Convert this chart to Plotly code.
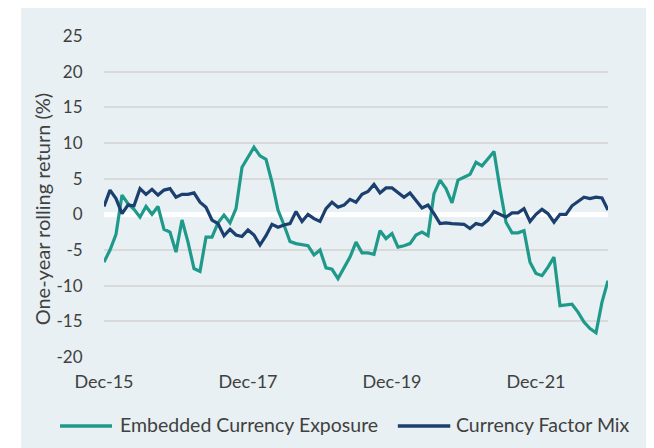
import plotly.graph_objects as go

months = list(range(85))  # monthly from Dec-15 to Dec-22
tick_vals = [0, 24, 48, 72]
tick_text = ["Dec-15", "Dec-17", "Dec-19", "Dec-21"]
y_tick_vals = [-20, -15, -10, -5, 0, 5, 10, 15, 20, 25]
y_tick_text = ["-20", "-15", "-10", "-5", "0", "5", "10", "15", "20", "25"]
series_names = ["Embedded Currency Exposure", "Currency Factor Mix"]

embedded = [
    -6.7, -5.0, -2.8, 2.7, 1.5, 0.7, -0.4, 1.1, 0.0, 1.1,
    -2.1, -2.5, -5.3, -0.8, -3.9, -7.6, -8.0, -3.2, -3.2, -1.2,
    -0.1, -1.2, 0.8, 6.6, 8.0, 9.4, 8.2, 7.7, 4.5, 0.6,
    -1.5, -3.8, -4.1, -4.3, -4.4, -5.7, -5.0, -7.5, -7.7, -9.0,
    -7.6, -6.0, -3.9, -5.4, -5.4, -5.6, -2.3, -3.4, -2.7, -4.6,
    -4.4, -4.1, -2.9, -2.5, -3.0, 2.9, 4.8, 3.6, 1.6, 4.8,
    5.2, 5.6, 7.3, 6.8, 7.8, 8.8, 3.6, -1.1, -2.6, -2.6,
    -2.3, -6.7, -8.3, -8.6, -7.4, -6.0, -12.8, -12.7, -12.6, -13.7,
    -15.1, -16.0, -16.6, -12.3, -9.3,
]

factor_mix = [
    1.1, 3.4, 2.2, 0.1, 1.3, 1.2, 3.6, 2.8, 3.5, 2.7,
    3.4, 3.6, 2.4, 2.8, 2.8, 3.0, 1.7, 1.0, -0.8, -1.3,
    -3.0, -2.1, -2.9, -3.1, -2.2, -2.9, -4.3, -3.0, -1.4, -1.8,
    -1.5, -1.3, 0.4, -1.0, 0.0, -0.6, -1.0, 0.8, 1.7, 1.0,
    1.3, 2.1, 1.7, 2.8, 3.2, 4.2, 3.0, 3.7, 3.7, 3.1,
    2.4, 3.0, 2.0, 0.9, 1.3, 0.1, -1.3, -1.2, -1.3, -1.3,
    -1.4, -2.0, -1.3, -1.5, -0.8, 0.4, 0.0, -0.4, 0.2, 0.2,
    0.8, -1.0, 0.0, 0.7, 0.1, -1.1, 0.0, 0.0, 1.2, 1.8,
    2.4, 2.2, 2.4, 2.3, 0.6,
]

BG = "#E8F0F3"
FONT = "Lato"
TXT = "#404040"
colors = ["#1F9A8A", "#1B3F6E"]

fig = go.Figure()
for name, vals, col in zip(series_names, [embedded, factor_mix], colors):
    fig.add_trace(go.Scatter(x=months, y=vals, mode="lines", name=name,
                             line=dict(color=col, width=3.2)))

# background panel
fig.add_shape(type="rect", xref="paper", yref="paper",
              x0=-0.1647, x1=1.2, y0=-0.5, y1=1.2,
              fillcolor=BG, line=dict(width=0), layer="below")

# manual legend
leg_y = -0.215
leg_items = [(-0.0873, 0.0159, 0.0278), (0.583, 0.687, 0.694)]
for (x0, x1, xt), name, col in zip(leg_items, series_names, colors):
    fig.add_shape(type="line", xref="paper", yref="paper", x0=x0, x1=x1,
                  y0=leg_y, y1=leg_y, line=dict(color=col, width=3.5))
    fig.add_annotation(xref="paper", yref="paper", x=xt, y=leg_y + 0.004, text=name,
                       showarrow=False, xanchor="left", yanchor="middle",
                       font=dict(size=19.5, color=TXT, family=FONT))

# y-axis title
fig.add_annotation(xref="paper", yref="paper", x=-0.123, y=0.46,
                   text="One-year rolling return (%)", textangle=-90,
                   showarrow=False, xanchor="center", yanchor="middle",
                   font=dict(size=20, color=TXT, family=FONT))

fig.update_layout(
    width=654, height=448,
    margin=dict(l=96, r=54, t=28, b=99),
    paper_bgcolor="white", plot_bgcolor=BG,
    font=dict(family=FONT, color=TXT, size=17),
    showlegend=False,
    xaxis=dict(range=[0, 84], tickmode="array", tickvals=tick_vals, ticktext=tick_text,
               showgrid=False, zeroline=False, showline=False, automargin=False,
               ticks="outside", ticklen=8, tickcolor="rgba(0,0,0,0)",
               tickfont=dict(size=18, color=TXT)),
    yaxis=dict(range=[-20, 25], tickmode="array", tickvals=y_tick_vals, ticktext=y_tick_text,
               showgrid=True, gridcolor="#D9D9D9", gridwidth=2, automargin=False,
               zeroline=True, zerolinecolor="white", zerolinewidth=5,
               showline=False, ticks="outside", ticklen=17, tickcolor="rgba(0,0,0,0)",
               tickfont=dict(size=17, color=TXT)),
)

fig.write_html("out.html")
